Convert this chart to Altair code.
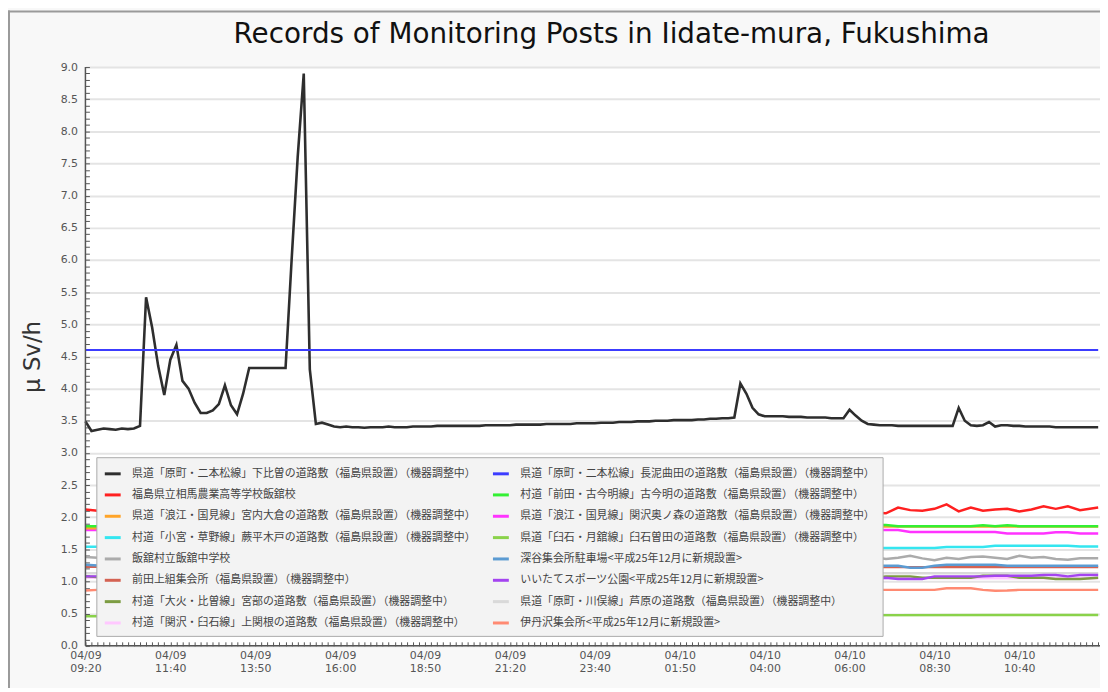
import json
import altair as alt
import pandas as pd

TITLE = "Records of Monitoring Posts in Iidate-mura, Fukushima"
Y_TITLE = "μ Sv/h"
TICK_LABELS = ["04/09 09:20", "04/09 11:40", "04/09 13:50", "04/09 16:00",
               "04/09 18:50", "04/09 21:20", "04/09 23:40", "04/10 01:50",
               "04/10 04:00", "04/10 06:00", "04/10 08:30", "04/10 10:40"]
LABEL_STEP = 14
X_LAST = 167
X_MAX = 167.3

LEFT_NAMES = [
    "県道「原町・二本松線」下比曽の道路敷（福島県設置）（機器調整中）",
    "福島県立相馬農業高等学校飯舘校",
    "県道「浪江・国見線」宮内大倉の道路敷（福島県設置）（機器調整中）",
    "村道「小宮・草野線」蕨平木戸の道路敷（福島県設置）（機器調整中）",
    "飯舘村立飯舘中学校",
    "前田上組集会所（福島県設置）（機器調整中）",
    "村道「大火・比曽線」宮部の道路敷（福島県設置）（機器調整中）",
    "村道「関沢・臼石線」上関根の道路敷（福島県設置）（機器調整中）",
]
RIGHT_NAMES = [
    "県道「原町・二本松線」長泥曲田の道路敷（福島県設置）（機器調整中）",
    "村道「前田・古今明線」古今明の道路敷（福島県設置）（機器調整中）",
    "県道「浪江・国見線」関沢奥ノ森の道路敷（福島県設置）（機器調整中）",
    "県道「臼石・月舘線」臼石曽田の道路敷（福島県設置）（機器調整中）",
    "深谷集会所駐車場<平成25年12月に新規設置>",
    "いいたてスポーツ公園<平成25年12月に新規設置>",
    "県道「原町・川俣線」芦原の道路敷（福島県設置）（機器調整中）",
    "伊丹沢集会所<平成25年12月に新規設置>",
]
LEFT_COLORS = ["#2e2e2e", "#ff2020", "#ffa428", "#34e6f0", "#ababab", "#d46252", "#7c9c42", "#ffc8ff"]
RIGHT_COLORS = ["#3c3cff", "#33f033", "#ff33ff", "#8ad24a", "#5b9bd2", "#a444f0", "#d9d9d9", "#ff8a72"]

# black series: one value per sample 0..167
BLACK_Y = [
    3.49, 3.34, 3.36, 3.38, 3.37, 3.36, 3.38, 3.37, 3.38, 3.42,
    5.42, 4.95, 4.35, 3.90, 4.45, 4.68, 4.12, 4.00, 3.78, 3.62,
    3.62, 3.66, 3.76, 4.05, 3.74, 3.60, 3.92, 4.32, 4.32, 4.32,
    4.32, 4.32, 4.32, 4.32, 6.00, 7.60, 8.90, 4.30, 3.45, 3.47,
    3.44, 3.41, 3.40, 3.41, 3.40, 3.40, 3.39, 3.40, 3.40, 3.40,
    3.41, 3.40, 3.40, 3.40, 3.41, 3.41, 3.41, 3.41, 3.42, 3.42,
    3.42, 3.42, 3.42, 3.42, 3.42, 3.42, 3.43, 3.43, 3.43, 3.43,
    3.43, 3.44, 3.44, 3.44, 3.44, 3.44, 3.45, 3.45, 3.45, 3.45,
    3.45, 3.46, 3.46, 3.46, 3.46, 3.47, 3.47, 3.47, 3.48, 3.48,
    3.48, 3.49, 3.49, 3.49, 3.50, 3.50, 3.50, 3.51, 3.51, 3.51,
    3.51, 3.52, 3.52, 3.53, 3.53, 3.54, 3.54, 3.55, 4.08, 3.92,
    3.70, 3.60, 3.57, 3.57, 3.57, 3.57, 3.56, 3.56, 3.56, 3.55,
    3.55, 3.55, 3.55, 3.54, 3.54, 3.54, 3.67, 3.58, 3.50, 3.45,
    3.44, 3.43, 3.43, 3.43, 3.42, 3.42, 3.42, 3.42, 3.42, 3.42,
    3.42, 3.42, 3.42, 3.42, 3.70, 3.50, 3.43, 3.42, 3.43, 3.48,
    3.41, 3.43, 3.43, 3.42, 3.42, 3.41, 3.41, 3.41, 3.41, 3.41,
    3.40, 3.40, 3.40, 3.40, 3.40, 3.40, 3.40, 3.40,
]
BLACK_X = list(range(len(BLACK_Y)))

SPARSE_X = [0, 2, 14, 28, 42, 56, 70, 84, 98, 112, 126,
            130, 132, 134, 136, 138, 140, 142, 144, 146, 148,
            150, 152, 154, 156, 158, 160, 162, 164, 167]
FLAT_X = [0, 167]

RED_Y = [2.12, 2.10, 2.12, 2.10, 2.13, 2.11, 2.12, 2.10, 2.13, 2.11, 2.10,
         2.07, 2.06, 2.15, 2.11, 2.10, 2.13, 2.20, 2.09, 2.15, 2.10,
         2.12, 2.13, 2.09, 2.12, 2.17, 2.13, 2.17, 2.11, 2.15]
ORANGE_Y = [1.83, 1.83, 1.84, 1.84, 1.84, 1.85, 1.85, 1.85, 1.85, 1.85, 1.855,
            1.855, 1.855, 1.855, 1.855, 1.855, 1.855, 1.855, 1.855, 1.855, 1.855,
            1.855, 1.855, 1.855, 1.855, 1.855, 1.855, 1.855, 1.855, 1.855]
CYAN_Y = [1.54, 1.54, 1.53, 1.53, 1.53, 1.53, 1.52, 1.52, 1.52, 1.52, 1.52,
          1.52, 1.52, 1.52, 1.52, 1.52, 1.52, 1.535, 1.535, 1.535, 1.535,
          1.555, 1.555, 1.555, 1.555, 1.555, 1.555, 1.555, 1.545, 1.545]
GRAY_Y = [1.38, 1.37, 1.37, 1.36, 1.37, 1.38, 1.36, 1.37, 1.38, 1.36, 1.37,
          1.38, 1.35, 1.37, 1.40, 1.36, 1.33, 1.37, 1.35, 1.38, 1.39,
          1.37, 1.35, 1.40, 1.37, 1.38, 1.35, 1.34, 1.36, 1.36]
DARKRED_Y = [1.23, 1.225]
OLIVE_Y = [1.08, 1.07, 1.07, 1.07, 1.07, 1.07, 1.07, 1.07, 1.07, 1.07, 1.07,
           1.06, 1.08, 1.08, 1.08, 1.06, 1.06, 1.06, 1.06, 1.06, 1.09,
           1.09, 1.09, 1.06, 1.06, 1.06, 1.04, 1.04, 1.04, 1.06]
PINK_Y = [1.06, 1.05]
BLUE_Y = [4.60, 4.60]
GREEN_Y = [1.86, 1.86, 1.87, 1.87, 1.87, 1.87, 1.87, 1.87, 1.87, 1.87, 1.88,
           1.88, 1.88, 1.86, 1.86, 1.86, 1.86, 1.86, 1.86, 1.86, 1.875,
           1.86, 1.875, 1.86, 1.86, 1.86, 1.86, 1.86, 1.86, 1.86]
MAGENTA_Y = [1.80, 1.80, 1.80, 1.79, 1.79, 1.79, 1.79, 1.80, 1.80, 1.80, 1.80,
             1.80, 1.80, 1.80, 1.77, 1.77, 1.77, 1.77, 1.77, 1.77, 1.77,
             1.77, 1.745, 1.745, 1.745, 1.745, 1.765, 1.765, 1.745, 1.745]
LGREEN_Y = [0.46, 0.48]
STEEL_Y = [1.26, 1.25, 1.25, 1.25, 1.25, 1.25, 1.25, 1.25, 1.25, 1.25, 1.245,
           1.245, 1.245, 1.245, 1.215, 1.215, 1.245, 1.26, 1.26, 1.26, 1.26,
           1.26, 1.245, 1.245, 1.245, 1.245, 1.245, 1.245, 1.245, 1.245]
PURPLE_Y = [1.08, 1.08, 1.08, 1.08, 1.08, 1.08, 1.08, 1.08, 1.08, 1.08, 1.06,
            1.04, 1.06, 1.04, 1.04, 1.04, 1.08, 1.08, 1.08, 1.08, 1.08,
            1.09, 1.09, 1.09, 1.09, 1.10, 1.10, 1.08, 1.10, 1.10]
LGRAY_Y = [1.13, 1.13]
SALMON_Y = [0.86, 0.87, 0.87, 0.87, 0.87, 0.87, 0.87, 0.87, 0.87, 0.87, 0.87,
            0.87, 0.87, 0.87, 0.87, 0.87, 0.87, 0.895, 0.895, 0.895, 0.87,
            0.855, 0.86, 0.87, 0.87, 0.87, 0.87, 0.87, 0.87, 0.87]

# drawing order (bottom to top): (name, xs, ys, stroke width)
SERIES = [
    (LEFT_NAMES[7], FLAT_X, PINK_Y, 2.5),
    (RIGHT_NAMES[6], FLAT_X, LGRAY_Y, 2.5),
    (RIGHT_NAMES[3], FLAT_X, LGREEN_Y, 2.5),
    (RIGHT_NAMES[7], SPARSE_X, SALMON_Y, 2.5),
    (LEFT_NAMES[6], SPARSE_X, OLIVE_Y, 2.5),
    (RIGHT_NAMES[5], SPARSE_X, PURPLE_Y, 2.5),
    (LEFT_NAMES[5], FLAT_X, DARKRED_Y, 2.5),
    (RIGHT_NAMES[4], SPARSE_X, STEEL_Y, 2.5),
    (LEFT_NAMES[4], SPARSE_X, GRAY_Y, 2.5),
    (LEFT_NAMES[3], SPARSE_X, CYAN_Y, 2.5),
    (RIGHT_NAMES[2], SPARSE_X, MAGENTA_Y, 2.5),
    (LEFT_NAMES[2], SPARSE_X, ORANGE_Y, 2.5),
    (RIGHT_NAMES[1], SPARSE_X, GREEN_Y, 2.5),
    (LEFT_NAMES[1], SPARSE_X, RED_Y, 2.5),
    (LEFT_NAMES[0], BLACK_X, BLACK_Y, 2.6),
    (RIGHT_NAMES[0], FLAT_X, BLUE_Y, 2.0),
]

rows = []
for name, xs, ys, _w in SERIES:
    for xv, yv in zip(xs, ys):
        rows.append({"i": xv, "v": yv, "s": name})
df = pd.DataFrame(rows)

# the legend fills its two columns top to bottom
DOMAIN = LEFT_NAMES + RIGHT_NAMES
RANGE = LEFT_COLORS + RIGHT_COLORS

W, H = 1022, 583
PAD_L, PAD_T = 78, 57

ticks_js = json.dumps(TICK_LABELS, ensure_ascii=False)
x_label_expr = (f"datum.value % {LABEL_STEP} == 0 && datum.value / {LABEL_STEP} < {len(TICK_LABELS)} "
                f"? split({ticks_js}[datum.value / {LABEL_STEP}], ' ') : ''")
half_test = "abs(datum.value * 2 - round(datum.value * 2)) < 0.001"

x_enc = alt.X(
    "i:Q",
    scale=alt.Scale(domain=[0, X_MAX], nice=False, zero=False),
    axis=alt.Axis(
        title=None, values=list(range(0, X_LAST + 1)), tickCount=1000,
        labelExpr=x_label_expr,
        grid=False, domain=False, offset=-4, tickSize=4, tickColor="#555555",
        tickWidth=1, labelPadding=4, labelFont="DejaVu Sans", labelFontSize=11,
        labelColor="#555555", labelLineHeight=13, labelOverlap=False,
        labelFlush=False, labelBound=False,
    ),
)
y_enc = alt.Y(
    "v:Q",
    scale=alt.Scale(domain=[0, 9], nice=False),
    axis=alt.Axis(
        title=Y_TITLE, values=[k / 10 for k in range(0, 91)], tickCount=1000,
        labelExpr=f"{half_test} ? format(datum.value, '.1f') : ''",
        grid=True, gridColor="#e4e4e4", gridWidth=2,
        gridOpacity={"condition": {"test": half_test, "value": 1}, "value": 0},
        domain=False, offset=-4, tickSize=4, tickColor="#555555", tickWidth=1,
        labelPadding=8, labelFont="DejaVu Sans", labelFontSize=11,
        labelColor="#555555", labelOverlap=False, labelFlush=False,
        titleFont="DejaVu Sans", titleFontSize=23, titleFontWeight="normal",
        titleColor="#333333", titlePadding=16,
    ),
)
color_enc = alt.Color(
    "s:N",
    scale=alt.Scale(domain=DOMAIN, range=RANGE),
    legend=alt.Legend(
        title=None, orient="none", legendX=11, legendY=393, columns=2,
        fillColor="#f3f3f3", strokeColor="#aaaaaa", padding=7,
        labelFont="Noto Sans CJK JP", labelFontSize=11, labelColor="#444444",
        labelLimit=600, labelOffset=10, symbolType="stroke", symbolStrokeWidth=3,
        symbolSize=256, rowPadding=5.5, columnPadding=10,
    ),
)

base = alt.Chart(df).encode(x=x_enc, y=y_enc, color=color_enc)
layers = []
for name, _xs, _ys, w in SERIES:
    layers.append(base.transform_filter(alt.datum.s == name).mark_line(strokeWidth=w))

one = pd.DataFrame({"a": [0]})
y_axis_line = alt.Chart(one).mark_rule(color="#555555", strokeWidth=1.5).encode(x=alt.datum(0))
x_axis_line = alt.Chart(one).mark_rule(color="#555555", strokeWidth=1.5).encode(y=alt.datum(0))
frame_left = alt.Chart(one).mark_rule(color="#9a9a9a", strokeWidth=2).encode(
    x=alt.value(-PAD_L + 1), y=alt.value(-PAD_T), y2=alt.value(H + 60))
frame_top = alt.Chart(one).mark_rule(color="#9a9a9a", strokeWidth=2).encode(
    x=alt.value(-PAD_L), x2=alt.value(W + 20), y=alt.value(-PAD_T + 1))
title_text = alt.Chart(pd.DataFrame({"t": [TITLE]})).mark_text(
    font="DejaVu Sans", fontSize=28, color="#111111", align="center", baseline="middle"
).encode(text="t:N", x=alt.value(530), y=alt.value(-32))

chart = alt.layer(*layers, y_axis_line, x_axis_line, frame_left, frame_top, title_text).properties(
    width=W, height=H,
    autosize=alt.AutoSizeParams(type="none"),
    padding={"left": PAD_L, "top": PAD_T, "right": 0, "bottom": 40},
    background="#f8f8f8",
).configure_view(fill="#ffffff", strokeWidth=0)

chart.save("out.html", embed_options={"renderer": "svg", "actions": False})
